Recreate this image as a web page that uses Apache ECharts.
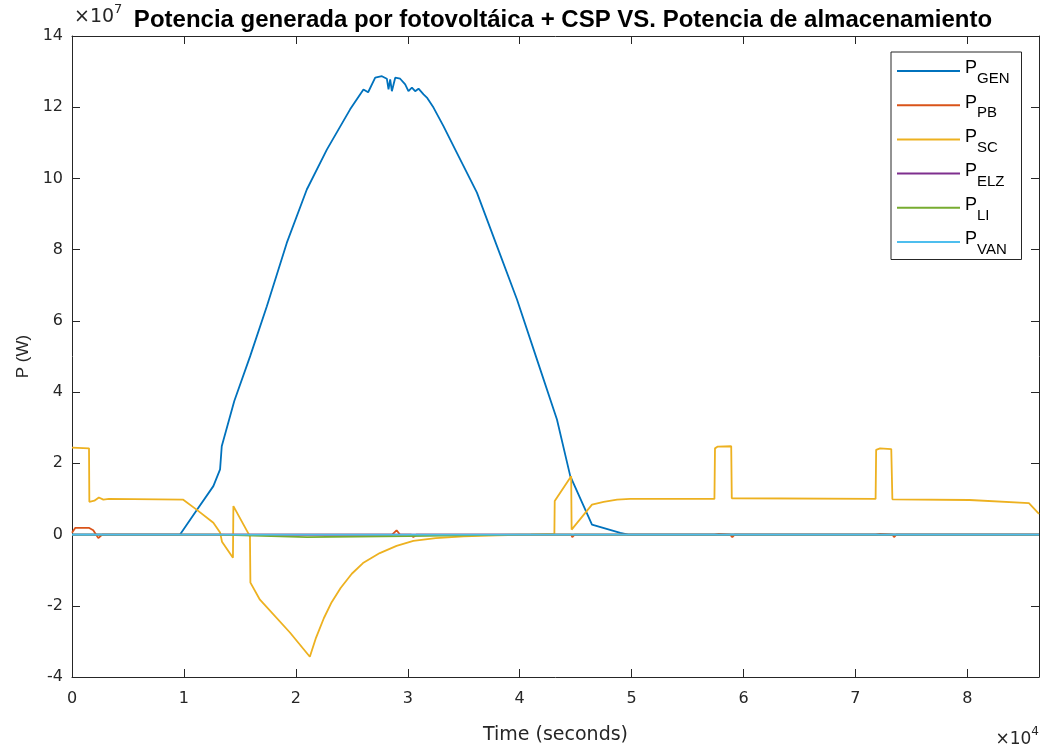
<!DOCTYPE html>
<html>
<head>
<meta charset="utf-8">
<script src="https://cdn.jsdelivr.net/npm/echarts@6/dist/echarts.min.js"></script>
<style>html,body{margin:0;padding:0;background:#fff}#c{width:1042px;height:751px}</style>
</head>
<body>
<div id="c"></div>
<script>
// Values in units of 1e7 W; time in seconds
const tGen = [0, 9655, 11000, 12630, 13230, 13380, 14500, 15920, 17410, 19190, 20980, 22770, 24850, 26040, 26460, 27090, 27690, 28130, 28280, 28430, 28580, 28880, 29320, 29770, 30060, 30370, 30660, 30960, 31410, 31710, 32300, 33190, 34390, 36180, 37970, 39760, 41540, 43330, 44520, 46460, 48990, 49700, 86400];
const pGen = [0, 0, 0.62, 1.36, 1.83, 2.48, 3.75, 5.01, 6.41, 8.19, 9.69, 10.81, 11.94, 12.5, 12.42, 12.83, 12.87, 12.8, 12.5, 12.78, 12.45, 12.83, 12.8, 12.64, 12.45, 12.55, 12.45, 12.52, 12.36, 12.27, 11.99, 11.47, 10.72, 9.6, 8.1, 6.6, 4.92, 3.23, 1.64, 0.28, 0.05, 0, 0];

const tPB = [0, 300, 1500, 1900, 2350, 2700, 14300, 14400, 14500, 15850, 15950, 16050, 28600, 29000, 29300, 30300, 30500, 30800, 43100, 43200, 43400, 44600, 44700, 44900, 57400, 57500, 57800, 58800, 59000, 59200, 71800, 71900, 72200, 73300, 73450, 73650, 86400];
const pPB = [0.05, 0.19, 0.19, 0.12, -0.1, 0, 0, 0.04, 0, 0, -0.05, 0, 0, 0.12, 0, 0, -0.07, 0, 0, 0.05, 0, 0, -0.07, 0, 0, 0.05, 0.02, 0, -0.07, 0, 0, 0.05, 0.02, 0, -0.07, 0, 0];

const tSC = [0, 1520, 1550, 2000, 2400, 2800, 3300, 9940, 11130, 12630, 13230, 13400, 14380, 14420, 15900, 15940, 16790, 19470, 21250, 21800, 22500, 23200, 24000, 25000, 26000, 27500, 29000, 30500, 32500, 35000, 38000, 41000, 43100, 43130, 44600, 44640, 46460, 47500, 48700, 49880, 57400, 57450, 57700, 58900, 58950, 71800, 71850, 72200, 73200, 73300, 80200, 85500, 86400];
const pSC = [2.44, 2.42, 0.92, 0.95, 1.04, 0.98, 1.0, 0.98, 0.7, 0.33, 0.06, -0.2, -0.65, 0.8, -0.05, -1.35, -1.83, -2.75, -3.43, -2.9, -2.35, -1.9, -1.5, -1.1, -0.8, -0.52, -0.32, -0.18, -0.1, -0.05, -0.02, 0, 0.02, 0.94, 1.64, 0.14, 0.84, 0.92, 0.98, 1.0, 1.0, 2.42, 2.47, 2.48, 1.02, 1.0, 2.38, 2.42, 2.4, 0.99, 0.97, 0.88, 0.58];

const tELZ = [0, 86400];
const pELZ = [0, 0];

const tLI = [0, 13000, 21000, 30000, 40000, 86400];
const pLI = [0, 0, -0.07, -0.04, 0, 0];

const tVAN = [0, 86400];
const pVAN = [0, 0];

const names = ['P_GEN', 'P_PB', 'P_SC', 'P_ELZ', 'P_LI', 'P_VAN'];
const subs = {P_GEN: 'GEN', P_PB: 'PB', P_SC: 'SC', P_ELZ: 'ELZ', P_LI: 'LI', P_VAN: 'VAN'};
const colors = ['#0072BD', '#D95319', '#EDB120', '#7E2F8E', '#77AC30', '#4DBEEE'];
const xTicks = [0, 1, 2, 3, 4, 5, 6, 7, 8];

const zip = (t, v) => t.map((x, i) => [x, v[i]]);
const seriesData = [zip(tGen, pGen), zip(tPB, pPB), zip(tSC, pSC), zip(tELZ, pELZ), zip(tLI, pLI), zip(tVAN, pVAN)];

const axisColor = '#262626';
const font = 'Liberation Sans, Arial, sans-serif';
const wide = 'DejaVu Sans, sans-serif';

const chart = echarts.init(document.getElementById('c'), null, {renderer: 'canvas'});
chart.setOption({
  animation: false,
  backgroundColor: '#fff',
  textStyle: {fontFamily: font},
  title: {
    text: 'Potencia generada por fotovoltáica + CSP VS. Potencia de almacenamiento',
    left: 558, top: 3, textAlign: 'center',
    textStyle: {fontSize: 24, fontWeight: 'bold', color: '#000', fontFamily: font}
  },
  grid: {left: 72, right: 3, top: 36, bottom: 74},
  legend: {
    orient: 'vertical', left: 891, top: 52,
    icon: 'rect', itemWidth: 63, itemHeight: 2, itemGap: 7.2,
    padding: [7.5, 12, 2, 6],
    borderColor: axisColor, borderWidth: 1, backgroundColor: '#fff',
    data: names,
    formatter: n => '{p|P}{s|' + subs[n] + '}',
    textStyle: {
      rich: {
        p: {fontSize: 18, color: '#000', fontFamily: font, padding: [0, 0, 5, 0]},
        s: {fontSize: 15, color: '#000', fontFamily: font, padding: [16, 0, 0, 0]}
      }
    }
  },
  xAxis: [{
    type: 'value', min: 0, max: 86400, interval: 10000,
    axisLine: {show: true, onZero: false, lineStyle: {color: axisColor, width: 1}},
    axisTick: {show: true, inside: true, length: 8, lineStyle: {color: axisColor}},
    axisLabel: {
      color: axisColor, fontSize: 16, fontFamily: wide, margin: 14, showMaxLabel: false,
      formatter: v => (v % 10000 === 0 ? String(xTicks[v / 10000]) : '')
    },
    splitLine: {show: false},
    name: 'Time (seconds)', nameLocation: 'middle', nameGap: 49,
    nameTextStyle: {fontSize: 19, color: axisColor, fontFamily: wide}
  }, {
    type: 'value', position: 'top', min: 0, max: 86400, interval: 10000,
    axisLine: {show: true, onZero: false, lineStyle: {color: axisColor, width: 1}},
    axisTick: {show: true, inside: true, length: 8, lineStyle: {color: axisColor}},
    axisLabel: {show: false}, splitLine: {show: false}
  }],
  yAxis: [{
    type: 'value', min: -4, max: 14, interval: 2,
    axisLine: {show: true, onZero: false, lineStyle: {color: axisColor, width: 1}},
    axisTick: {show: true, inside: true, length: 8, lineStyle: {color: axisColor}},
    axisLabel: {color: axisColor, fontSize: 16, fontFamily: wide, margin: 9},
    splitLine: {show: false},
    name: 'P (W)', nameLocation: 'middle', nameGap: 31, nameRotate: 90,
    nameTextStyle: {fontSize: 17, color: axisColor, fontFamily: font}
  }, {
    type: 'value', position: 'right', min: -4, max: 14, interval: 2,
    axisLine: {show: true, onZero: false, lineStyle: {color: axisColor, width: 1}},
    axisTick: {show: true, inside: true, length: 8, lineStyle: {color: axisColor}},
    axisLabel: {show: false}, splitLine: {show: false}
  }],
  graphic: [
    {type: 'text', left: 74, top: 3, style: {
      text: '{a|×10}{b|7}', rich: {
        a: {fontSize: 19, fill: axisColor, fontFamily: wide, padding: [7, 0, 0, 0]},
        b: {fontSize: 13, fill: axisColor, fontFamily: wide, padding: [0, 0, 9, 0]}
      }}},
    {type: 'text', right: 3, top: 726, style: {
      text: '{a|×10}{b|4}', rich: {
        a: {fontSize: 17, fill: axisColor, fontFamily: wide, padding: [7, 0, 0, 0]},
        b: {fontSize: 12, fill: axisColor, fontFamily: wide, padding: [0, 0, 9, 0]}
      }}}
  ],
  series: names.map((n, i) => ({
    name: n, type: 'line', data: seriesData[i],
    xAxisIndex: 0, yAxisIndex: 0,
    symbol: 'none', showSymbol: false,
    lineStyle: {color: colors[i], width: 1.8},
    itemStyle: {color: colors[i]},
    z: 2 + i
  }))
});
</script>
</body>
</html>
